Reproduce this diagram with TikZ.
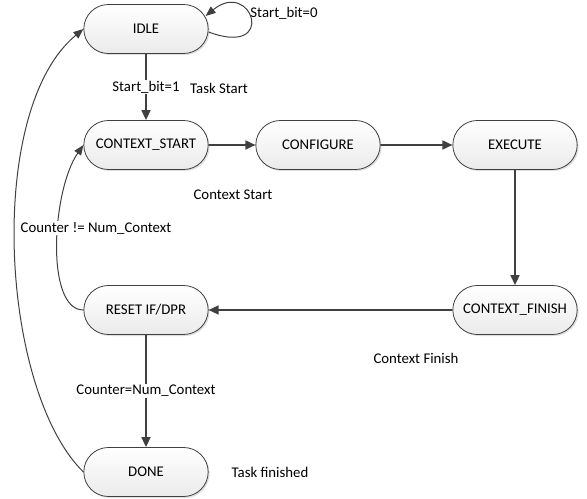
\documentclass[tikz,border=0pt]{standalone}
\usepackage{fontspec}
\setmainfont{Carlito}
\usetikzlibrary{arrows.meta,shapes.misc,shadows,calc}
\definecolor{linegray}{HTML}{404040}

\begin{document}
\begin{tikzpicture}[x=1bp, y=-1bp,
  state/.style={rounded rectangle, draw=linegray, line width=0.8bp,
    minimum width=131bp, minimum height=49bp, top color=white, bottom color=black!8,
    drop shadow={shadow xshift=1.5bp, shadow yshift=-1.5bp, opacity=0.25}},
  lab/.style={inner sep=1bp},
  arr/.style={draw=linegray, line width=1.6bp, -{Triangle[length=10bp,width=9bp]}},
  curve/.style={draw=linegray, line width=1bp, -{Triangle[length=10bp,width=8bp]}},
  font=\fontsize{14.8bp}{17bp}\selectfont
]
\useasboundingbox (0,0) rectangle (587,499);
% states
\foreach \n/\x/\y/\t in {idle/146/29/IDLE, cstart/146/145/CONTEXT\_START,
    config/318/145/CONFIGURE, exec/515/145/EXECUTE, cfinish/515/310/CONTEXT\_FINISH,
    reset/146/310/{RESET IF/DPR}, done/146/472/DONE} {
  \node[state] (\n) at (\x,\y) {\t};
}
% transitions
\draw[arr] (idle.south) -- node[lab, fill=white] {Start\_bit=1} (cstart.north);
\draw[arr] (cstart) -- (config);
\draw[arr] (config) -- (exec);
\draw[arr] (exec) -- (cfinish);
\draw[arr] (cfinish) -- (reset);
\draw[arr] (reset.south) -- node[lab, fill=white] {Counter=Num\_Context} (done.north);
\draw[curve] ($(idle.east)+(0,3)$) .. controls (278,58) and (252,-22) .. ($(idle.east)+(-3,-13)$);
\draw[curve] (reset.west) .. controls (45,310) and (52,190) .. (cstart.west);
\draw[curve] (done.west) .. controls (0,390) and (-15,110) .. (idle.west);
% texts
\node[lab, fill=white] (cntne) at (96,228) {Counter != Num\_Context};
\node[lab] (sbzero) at (284,13) {Start\_bit=0};
\node[lab] (tstart) at (219,88) {Task Start};
\node[lab] (cstartlab) at (233,195) {Context Start};
\node[lab] (cfinlab) at (416,358) {Context Finish};
\node[lab] (tfin) at (270,472) {Task finished};
\end{tikzpicture}
\end{document}
